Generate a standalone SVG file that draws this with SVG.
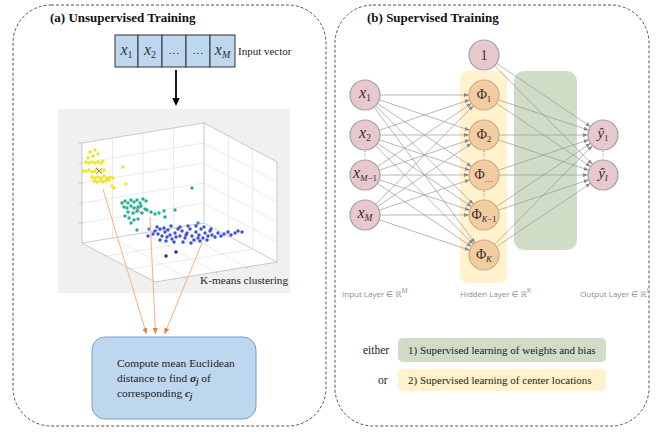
<svg xmlns="http://www.w3.org/2000/svg" width="658" height="432" viewBox="0 0 658 432">
  <style>
    .panel { fill: none; stroke: #555; stroke-width: 1; stroke-dasharray: 3 2; }
    .title { font-family: "Liberation Serif", serif; font-weight: bold; font-size: 13px; fill: #111; }
    .serif { font-family: "Liberation Serif", serif; fill: #222; }
    .math { font-family: "Liberation Serif", "DejaVu Serif", serif; font-style: italic; fill: #333; }
    .cell { fill: #bdd7ee; stroke: #333; stroke-width: 1; }
    .grid { stroke: #dedede; stroke-width: 0.6; fill: none; }
    .axis { stroke: #b5b5b5; stroke-width: 0.7; fill: none; }
    .y { fill: #f0e41c; }
    .t { fill: #22b38c; }
    .b { fill: #3c4fe2; }
    .lb { fill: #2f8fe0; }
    .db { fill: #2a1e8c; }
    .orange { stroke: #f4b183; stroke-width: 1; fill: none; marker-end: url(#arrOrange); }
    .edge { stroke: #9a9a9a; stroke-width: 0.7; fill: none; marker-end: url(#arrGray); }
    .inode { fill: #e6c8cd; stroke: #a0a0a0; stroke-width: 1.2; }
    .hnode { fill: #f3cca0; stroke: #c9ab8c; stroke-width: 1.2; }
    .nlabel { font-family: "Liberation Serif", "DejaVu Serif", serif; fill: #3a3030; }
    .layer { font-family: "Open Sans", "DejaVu Sans", sans-serif; font-size: 8px; fill: #8c8c8c; }
    .vdots { stroke: #888; stroke-width: 1; stroke-dasharray: 1 1.2; }
  </style>
  <defs>
    <marker id="arrGray" markerUnits="userSpaceOnUse" markerWidth="5" markerHeight="4" refX="5" refY="2" orient="auto">
      <path d="M0,0 L5,2 L0,4 z" fill="#8a8a8a"/>
    </marker>
    <marker id="arrOrange" markerUnits="userSpaceOnUse" markerWidth="6" markerHeight="5" refX="6" refY="2.5" orient="auto">
      <path d="M0,0 L6,2.5 L0,5 z" fill="#ed7d31"/>
    </marker>
  </defs>

  <rect width="658" height="432" fill="#fff"/>

  <!-- (a) unsupervised training panel -->
  <g id="panel-a">
    <rect class="panel" x="13" y="5" width="313" height="421" rx="38" ry="38"/>
    <text class="title" x="50" y="22">(a) Unsupervised Training</text>
  </g>

  <g id="input-vector">
    <rect class="cell" x="115" y="35" width="23" height="32"/>
    <rect class="cell" x="138" y="35" width="24" height="32"/>
    <rect class="cell" x="162" y="35" width="24" height="32"/>
    <rect class="cell" x="186" y="35" width="24" height="32"/>
    <rect class="cell" x="210" y="35" width="25" height="32"/>
    <text class="math" font-size="16" x="126.5" y="55" text-anchor="middle">x<tspan font-size="10" font-style="normal" dy="3">1</tspan></text>
    <text class="math" font-size="16" x="150" y="55" text-anchor="middle">x<tspan font-size="10" font-style="normal" dy="3">2</tspan></text>
    <text class="serif" font-size="11" x="174" y="54" text-anchor="middle">…</text>
    <text class="serif" font-size="11" x="198" y="54" text-anchor="middle">…</text>
    <text class="math" font-size="16" x="222.5" y="55" text-anchor="middle">x<tspan font-size="10" dy="3">M</tspan></text>
    <text class="serif" font-size="11" x="238" y="55">Input vector</text>
  </g>

  <g id="down-arrow">
    <line x1="176" y1="70" x2="176" y2="99" stroke="#000" stroke-width="1.8"/>
    <path d="M172.3,98 L179.7,98 L176,106 z" fill="#000"/>
  </g>

  <!-- k-means 3D scatter plot -->
  <g id="scatter">
    <rect x="58" y="109" width="232" height="184" fill="#f0f0f0"/>
    <polygon points="82,143 204,123 277,162 277,262 155,282 82,243" fill="#fff"/>
    <!-- back-left wall grid -->
    <path class="grid" d="M82,163 L204,143 M82,183 L204,163 M82,203 L204,183 M82,223 L204,203
      M112.5,138 L112.5,238 M143,133 L143,233 M173.5,128 L173.5,228"/>
    <!-- back-right wall grid -->
    <path class="grid" d="M204,143 L277,182 M204,163 L277,202 M204,183 L277,222 M204,203 L277,242
      M228.3,136 L228.3,236 M252.7,149 L252.7,249"/>
    <!-- floor grid -->
    <path class="grid" d="M106.3,256 L228.3,236 M130.7,269 L252.7,249
      M185.5,277 L112.5,238 M216,272 L143,233 M246.5,267 L173.5,228"/>
    <!-- box edges -->
    <path class="axis" d="M82,143 L204,123 L277,162 L277,262 L155,282 L82,243 Z M204,123 L204,223 L82,243 M204,223 L277,262"/>
    <path class="axis" d="M82,163 l-3,0 M82,183 l-3,0 M82,203 l-3,0 M82,223 l-3,0 M82,143 l-3,0
      M106.3,256 l-2,-1 M130.7,269 l-2,-1 M185.5,277 l1,2 M216,272 l1,2 M246.5,267 l1,2"/>

    <g class="y">
      <circle cx="90" cy="152" r="1.7"/><circle cx="95" cy="150" r="1.7"/><circle cx="93" cy="156" r="1.7"/>
      <circle cx="98" cy="154" r="1.7"/><circle cx="88" cy="158" r="1.7"/>
      <circle cx="86" cy="162" r="1.7"/><circle cx="89" cy="163" r="1.7"/><circle cx="92" cy="162" r="1.7"/>
      <circle cx="95" cy="163" r="1.7"/><circle cx="98" cy="162" r="1.7"/><circle cx="101" cy="163" r="1.7"/>
      <circle cx="103" cy="161" r="1.7"/>
      <circle cx="83" cy="171" r="1.7"/><circle cx="86" cy="171" r="1.7"/><circle cx="89" cy="170" r="1.7"/>
      <circle cx="92" cy="172" r="1.7"/><circle cx="95" cy="171" r="1.7"/><circle cx="97" cy="169" r="1.7"/>
      <circle cx="101" cy="172" r="1.7"/><circle cx="104" cy="170" r="1.7"/>
      <circle cx="92" cy="177" r="1.7"/><circle cx="95" cy="178" r="1.7"/><circle cx="98" cy="177" r="1.7"/>
      <circle cx="101" cy="178" r="1.7"/><circle cx="104" cy="176" r="1.7"/><circle cx="107" cy="178" r="1.7"/>
      <circle cx="110" cy="177" r="1.7"/><circle cx="94" cy="181" r="1.7"/><circle cx="97" cy="182" r="1.7"/>
      <circle cx="100" cy="181" r="1.7"/><circle cx="103" cy="182" r="1.7"/><circle cx="106" cy="181" r="1.7"/>
      <circle cx="109" cy="180" r="1.7"/><circle cx="113" cy="178" r="1.7"/>
      <circle cx="123" cy="167" r="1.7"/><circle cx="126" cy="184" r="1.7"/><circle cx="112" cy="186" r="1.7"/>
      <circle cx="114" cy="188" r="1.7"/>
    </g>
    <g class="t">
      <circle cx="122" cy="203" r="1.7"/><circle cx="125" cy="201" r="1.7"/><circle cx="128" cy="203" r="1.7"/>
      <circle cx="131" cy="200" r="1.7"/><circle cx="134" cy="202" r="1.7"/><circle cx="137" cy="200" r="1.7"/>
      <circle cx="140" cy="203" r="1.7"/><circle cx="143" cy="199" r="1.7"/><circle cx="146" cy="201" r="1.7"/>
      <circle cx="124" cy="207" r="1.7"/><circle cx="127" cy="208" r="1.7"/><circle cx="131" cy="206" r="1.7"/>
      <circle cx="134" cy="208" r="1.7"/><circle cx="138" cy="207" r="1.7"/><circle cx="141" cy="206" r="1.7"/>
      <circle cx="145" cy="209" r="1.7"/>
      <circle cx="128" cy="212" r="1.7"/><circle cx="133" cy="213" r="1.7"/><circle cx="137" cy="211" r="1.7"/>
      <circle cx="142" cy="213" r="1.7"/><circle cx="147" cy="210" r="1.7"/><circle cx="151" cy="212" r="1.7"/>
      <circle cx="155" cy="214" r="1.7"/><circle cx="159" cy="213" r="1.7"/><circle cx="164" cy="211" r="1.7"/>
      <circle cx="175" cy="210" r="1.7"/>
      <circle cx="129" cy="218" r="1.7"/><circle cx="134" cy="220" r="1.7"/><circle cx="138" cy="219" r="1.7"/>
      <circle cx="125" cy="216" r="1.7"/><circle cx="131" cy="223" r="1.7"/><circle cx="137" cy="230" r="1.7"/>
      <circle cx="192" cy="188" r="1.7"/>
    </g>
    <g class="b">
      <circle cx="155" cy="231" r="1.7"/><circle cx="158" cy="234" r="1.7"/><circle cx="160" cy="229" r="1.7"/>
      <circle cx="162" cy="236" r="1.7"/><circle cx="165" cy="232" r="1.7"/><circle cx="168" cy="230" r="1.7"/>
      <circle cx="170" cy="235" r="1.7"/><circle cx="172" cy="239" r="1.7"/><circle cx="175" cy="233" r="1.7"/>
      <circle cx="178" cy="229" r="1.7"/><circle cx="180" cy="236" r="1.7"/><circle cx="182" cy="231" r="1.7"/>
      <circle cx="185" cy="238" r="1.7"/><circle cx="187" cy="233" r="1.7"/><circle cx="190" cy="229" r="1.7"/>
      <circle cx="192" cy="236" r="1.7"/><circle cx="194" cy="240" r="1.7"/><circle cx="196" cy="232" r="1.7"/>
      <circle cx="199" cy="235" r="1.7"/><circle cx="201" cy="229" r="1.7"/><circle cx="203" cy="238" r="1.7"/>
      <circle cx="205" cy="233" r="1.7"/><circle cx="208" cy="236" r="1.7"/><circle cx="210" cy="231" r="1.7"/>
      <circle cx="212" cy="235" r="1.7"/><circle cx="160" cy="240" r="1.7"/><circle cx="166" cy="241" r="1.7"/>
      <circle cx="174" cy="242" r="1.7"/><circle cx="183" cy="242" r="1.7"/><circle cx="191" cy="243" r="1.7"/>
      <circle cx="200" cy="241" r="1.7"/><circle cx="207" cy="240" r="1.7"/><circle cx="215" cy="237" r="1.7"/>
      <circle cx="218" cy="233" r="1.7"/><circle cx="221" cy="236" r="1.7"/><circle cx="224" cy="234" r="1.7"/>
      <circle cx="228" cy="232" r="1.7"/><circle cx="231" cy="235" r="1.7"/><circle cx="235" cy="233" r="1.7"/>
      <circle cx="238" cy="231" r="1.7"/><circle cx="242" cy="232" r="1.7"/><circle cx="157" cy="227" r="1.7"/>
      <circle cx="164" cy="228" r="1.7"/><circle cx="171" cy="226" r="1.7"/><circle cx="180" cy="227" r="1.7"/>
      <circle cx="188" cy="226" r="1.7"/><circle cx="196" cy="226" r="1.7"/><circle cx="204" cy="227" r="1.7"/>
      <circle cx="211" cy="229" r="1.7"/><circle cx="176" cy="237" r="1.7"/><circle cx="186" cy="235" r="1.7"/>
      <circle cx="198" cy="238" r="1.7"/><circle cx="167" cy="237" r="1.7"/><circle cx="153" cy="234" r="1.7"/>
      <circle cx="148" cy="236" r="1.7"/>
    </g>
    <g class="lb">
      <circle cx="165" cy="217" r="1.7"/><circle cx="149" cy="229" r="1.7"/><circle cx="198" cy="223" r="1.7"/>
    </g>
    <g class="db">
      <circle cx="166" cy="256" r="1.7"/><circle cx="176" cy="252" r="1.7"/>
    </g>
    <!-- cluster centres -->
    <path d="M96,168 l6,6 M102,168 l-6,6 M135,207 l6,6 M141,207 l-6,6" stroke="#777" stroke-width="0.8"/>
    <text class="serif" font-size="11.3" x="200" y="284">K-means clustering</text>
  </g>

  <g id="centre-links">
    <line class="orange" x1="103" y1="189" x2="146.5" y2="334"/>
    <line class="orange" x1="150" y1="217" x2="155.5" y2="334"/>
    <line class="orange" x1="202" y1="243" x2="164.5" y2="334"/>
  </g>

  <g id="sigma-box">
    <rect x="92" y="337" width="164" height="82" rx="13" ry="13" fill="#bdd7ee" stroke="#7f9cc8" stroke-width="1"/>
    <text class="serif" font-size="11.4" x="117" y="367">Compute mean Euclidean</text>
    <text class="serif" font-size="11.4" x="117" y="382">distance to find <tspan font-weight="bold" font-style="italic">σ<tspan font-size="8" dy="2">j</tspan></tspan><tspan dy="-2"> of</tspan></text>
    <text class="serif" font-size="11.4" x="117" y="397">corresponding <tspan font-weight="bold" font-style="italic">c<tspan font-size="8" dy="2">j</tspan></tspan></text>
  </g>

  <!-- (b) supervised training panel -->
  <g id="panel-b">
    <rect class="panel" x="335" y="5" width="314" height="421" rx="38" ry="38"/>
    <text class="title" x="367" y="22">(b) Supervised Training</text>
  </g>

  <g id="bands">
    <rect x="460" y="71" width="47" height="212" rx="8" ry="8" fill="#fff2cc"/>
    <rect x="514" y="71" width="63" height="179" rx="10" ry="10" fill="#d0dcc5"/>
  </g>

  <g id="connectors">
    <!-- input layer to hidden layer -->
    <line class="edge" x1="380" y1="95" x2="469" y2="95"/>
    <line class="edge" x1="379.22" y1="99.78" x2="469.78" y2="130.22"/>
    <line class="edge" x1="377.45" y1="103.37" x2="471.55" y2="166.63"/>
    <line class="edge" x1="375.56" y1="105.65" x2="473.44" y2="204.35"/>
    <line class="edge" x1="373.95" y1="107.04" x2="475.05" y2="242.96"/>
    <line class="edge" x1="379.22" y1="130.22" x2="469.78" y2="99.78"/>
    <line class="edge" x1="380" y1="135" x2="469" y2="135"/>
    <line class="edge" x1="379.22" y1="139.78" x2="469.78" y2="170.22"/>
    <line class="edge" x1="377.45" y1="143.37" x2="471.55" y2="206.63"/>
    <line class="edge" x1="375.56" y1="145.65" x2="473.44" y2="244.35"/>
    <line class="edge" x1="377.45" y1="166.63" x2="471.55" y2="103.37"/>
    <line class="edge" x1="379.22" y1="170.22" x2="469.78" y2="139.78"/>
    <line class="edge" x1="380" y1="175" x2="469" y2="175"/>
    <line class="edge" x1="379.22" y1="179.78" x2="469.78" y2="210.22"/>
    <line class="edge" x1="377.45" y1="183.37" x2="471.55" y2="246.63"/>
    <line class="edge" x1="375.56" y1="204.35" x2="473.44" y2="105.65"/>
    <line class="edge" x1="377.45" y1="206.63" x2="471.55" y2="143.37"/>
    <line class="edge" x1="379.22" y1="210.22" x2="469.78" y2="179.78"/>
    <line class="edge" x1="380" y1="215" x2="469" y2="215"/>
    <line class="edge" x1="379.22" y1="219.78" x2="469.78" y2="250.22"/>
    <!-- hidden layer to output layer -->
    <line class="edge" x1="498.22" y1="99.78" x2="588.78" y2="130.22"/>
    <line class="edge" x1="496.45" y1="103.37" x2="590.55" y2="166.63"/>
    <line class="edge" x1="499" y1="135" x2="588" y2="135"/>
    <line class="edge" x1="498.22" y1="139.78" x2="588.78" y2="170.22"/>
    <line class="edge" x1="498.22" y1="170.22" x2="588.78" y2="139.78"/>
    <line class="edge" x1="499" y1="175" x2="588" y2="175"/>
    <line class="edge" x1="496.45" y1="206.63" x2="590.55" y2="143.37"/>
    <line class="edge" x1="498.22" y1="210.22" x2="588.78" y2="179.78"/>
    <line class="edge" x1="494.56" y1="244.35" x2="592.44" y2="145.65"/>
    <line class="edge" x1="496.45" y1="246.63" x2="590.55" y2="183.37"/>
    <!-- bias to output layer -->
    <line class="edge" x1="496.45" y1="63.37" x2="590.55" y2="126.63"/>
    <line class="edge" x1="494.56" y1="65.65" x2="592.44" y2="164.35"/>
  </g>

  <g id="bias">
    <circle class="inode" cx="484" cy="55" r="15"/>
    <text class="nlabel" font-size="14" x="484" y="60" text-anchor="middle">1</text>
  </g>

  <g id="x1">
    <circle class="inode" cx="365" cy="95" r="15"/>
    <text class="nlabel" font-size="16" x="365" y="98" text-anchor="middle"><tspan font-style="italic">x</tspan><tspan font-size="9.5" dy="2.5">1</tspan></text>
  </g>
  <g id="x2">
    <circle class="inode" cx="365" cy="135" r="15"/>
    <text class="nlabel" font-size="16" x="365" y="138" text-anchor="middle"><tspan font-style="italic">x</tspan><tspan font-size="9.5" dy="2.5">2</tspan></text>
  </g>
  <g id="xM-1">
    <circle class="inode" cx="365" cy="175" r="15"/>
    <text class="nlabel" font-size="16" x="365" y="178" text-anchor="middle"><tspan font-style="italic">x</tspan><tspan font-size="9" dy="2.5"><tspan font-style="italic">M</tspan>−1</tspan></text>
  </g>
  <g id="xM">
    <circle class="inode" cx="365" cy="215" r="15"/>
    <text class="nlabel" font-size="16" x="365" y="218" text-anchor="middle"><tspan font-style="italic">x</tspan><tspan font-size="9.5" dy="2.5" font-style="italic">M</tspan></text>
  </g>

  <g id="phi1">
    <circle class="hnode" cx="484" cy="95" r="15"/>
    <text class="nlabel" font-size="14" x="484" y="99" text-anchor="middle">Φ<tspan font-size="9" dy="2.5">1</tspan></text>
  </g>
  <g id="phi2">
    <circle class="hnode" cx="484" cy="135" r="15"/>
    <text class="nlabel" font-size="14" x="484" y="139" text-anchor="middle">Φ<tspan font-size="9" dy="2.5">2</tspan></text>
  </g>
  <g id="phi-dots">
    <circle class="hnode" cx="484" cy="175" r="15"/>
    <text class="nlabel" font-size="14" x="484" y="179" text-anchor="middle">Φ<tspan font-size="9" dy="2.5">…</tspan></text>
  </g>
  <g id="phiK-1">
    <circle class="hnode" cx="484" cy="215" r="15"/>
    <text class="nlabel" font-size="14" x="484" y="219" text-anchor="middle">Φ<tspan font-size="8.5" dy="2.5"><tspan font-style="italic">K</tspan>−1</tspan></text>
  </g>
  <g id="phiK">
    <circle class="hnode" cx="484" cy="255" r="15"/>
    <text class="nlabel" font-size="14" x="484" y="259" text-anchor="middle">Φ<tspan font-size="9" dy="2.5" font-style="italic">K</tspan></text>
  </g>

  <g id="y1">
    <circle class="inode" cx="603" cy="135" r="15"/>
    <text class="nlabel" font-size="15" x="603" y="138" text-anchor="middle"><tspan font-style="italic">ŷ</tspan><tspan font-size="9" dy="2.5">1</tspan></text>
  </g>
  <g id="yI">
    <circle class="inode" cx="603" cy="175" r="15"/>
    <text class="nlabel" font-size="15" x="603" y="178" text-anchor="middle"><tspan font-style="italic">ŷ</tspan><tspan font-size="9" dy="2.5" font-style="italic">I</tspan></text>
  </g>

  <g id="ellipses">
    <line class="vdots" x1="365" y1="151" x2="365" y2="158"/>
    <line class="vdots" x1="484" y1="151" x2="484" y2="158"/>
    <line class="vdots" x1="484" y1="191" x2="484" y2="198"/>
    <line class="vdots" x1="603" y1="151" x2="603" y2="158"/>
  </g>

  <g id="layer-labels">
    <text class="layer" x="342" y="297">Input Layer ∈ ℝ<tspan font-size="6.5" dy="-4">M</tspan></text>
    <text class="layer" x="460" y="297">Hidden Layer ∈ ℝ<tspan font-size="6.5" dy="-4">K</tspan></text>
    <text class="layer" x="580" y="297">Output Layer ∈ ℝ<tspan font-size="6.5" dy="-4">I</tspan></text>
  </g>

  <g id="legend">
    <text class="serif" font-size="11.5" x="363" y="354">either</text>
    <rect x="398" y="338" width="208" height="24" rx="5" ry="5" fill="#d0dcc5"/>
    <text class="serif" font-size="11" x="408" y="354">1) Supervised learning of weights and bias</text>
    <text class="serif" font-size="11.5" x="378" y="384">or</text>
    <rect x="398" y="369" width="208" height="22" rx="5" ry="5" fill="#fff2cc"/>
    <text class="serif" font-size="11" x="408" y="384">2) Supervised learning of center locations</text>
  </g>
</svg>
